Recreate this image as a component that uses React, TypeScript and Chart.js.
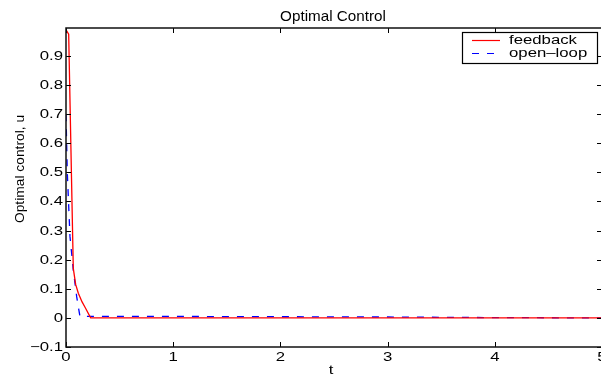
import React, { useEffect, useRef } from "react";
import { Chart, registerables } from "chart.js";

Chart.register(...registerables);

// ---- Data ----
const chartTitle = "Optimal Control";
const xAxisLabel = "t";
const yAxisLabel = "Optimal control, u";
const seriesNames = ["feedback", "open\u2013loop"];

const feedbackT = [0, 0.025, 0.068, 0.09, 0.115, 0.15, 0.18, 0.23, 1, 2, 3, 4, 5];
const feedbackU = [0.99, 0.975, 0.17, 0.115, 0.085, 0.055, 0.035, 0, 0, 0, 0, 0, 0];

const openLoopT = [0, 0.012, 0.037, 0.068, 0.1, 0.13, 0.22, 1, 2, 3, 4, 5];
const openLoopU = [0.7, 0.5, 0.28, 0.165, 0.072, 0.005, 0.005, 0.005, 0.004, 0.003, 0.001, 0.0];

const xTicks = [0, 1, 2, 3, 4, 5];
const xTickLabels = ["0", "1", "2", "3", "4", "5"];
const yTicks = [-0.1, 0, 0.1, 0.2, 0.3, 0.4, 0.5, 0.6, 0.7, 0.8, 0.9];
const yTickLabels = ["\u22120.1", "0", "0.1", "0.2", "0.3", "0.4", "0.5", "0.6", "0.7", "0.8", "0.9"];

const xMin = 0;
const xMax = 5;
const yMin = -0.1;
const yMax = 0.996;

const FONT = "'Liberation Sans', Arial, Helvetica, sans-serif";

function stretchedText(
  ctx: CanvasRenderingContext2D,
  text: string,
  x: number,
  y: number,
  size: number,
  sx: number,
  align: CanvasTextAlign,
  baseline: CanvasTextBaseline
) {
  ctx.save();
  ctx.translate(x, y);
  ctx.scale(sx, 1);
  ctx.font = `${size}px ${FONT}`;
  ctx.textAlign = align;
  ctx.textBaseline = baseline;
  ctx.fillStyle = "#000";
  ctx.fillText(text, 0, 0);
  ctx.restore();
}

const framePlugin = {
  id: "matlabFrame",
  afterDraw(chart: any) {
    const ctx: CanvasRenderingContext2D = chart.ctx;
    const { left, right, top, bottom } = chart.chartArea;
    const xs = chart.scales.x;
    const ys = chart.scales.y;
    ctx.save();
    ctx.strokeStyle = "#000";
    ctx.lineWidth = 1;
    const tl = 5;
    ctx.beginPath();
    xTicks.forEach((v) => {
      const px = Math.round(xs.getPixelForValue(v)) + 0.5;
      ctx.moveTo(px, bottom);
      ctx.lineTo(px, bottom - tl);
      ctx.moveTo(px, top);
      ctx.lineTo(px, top + tl);
    });
    yTicks.forEach((v) => {
      const py = Math.round(ys.getPixelForValue(v)) + 0.5;
      ctx.moveTo(left, py);
      ctx.lineTo(left + tl, py);
      ctx.moveTo(right, py);
      ctx.lineTo(right - tl, py);
    });
    ctx.stroke();

    ctx.lineWidth = 1.5;
    ctx.strokeStyle = "#111";
    ctx.strokeRect(left, top, right - left, bottom - top);

    // tick labels
    xTicks.forEach((v, i) => {
      stretchedText(ctx, xTickLabels[i], xs.getPixelForValue(v), 358, 12.5, 1.34, "center", "middle");
    });
    yTicks.forEach((v, i) => {
      stretchedText(ctx, yTickLabels[i], left - 3, ys.getPixelForValue(v) + 0.5, 12.5, 1.34, "right", "middle");
    });

    // axis labels & title
    stretchedText(ctx, xAxisLabel, (left + right) / 2 - 3, 374, 12.5, 1.34, "center", "alphabetic");
    stretchedText(ctx, chartTitle, 333, 21, 14.5, 1.05, "center", "alphabetic");
    ctx.save();
    ctx.translate(21, 169);
    ctx.rotate(-Math.PI / 2);
    stretchedText(ctx, yAxisLabel, 0, 0, 12, 1.15, "center", "middle");
    ctx.restore();

    // legend
    const bx = 462, by = 32, bw = 135, bh = 31;
    ctx.fillStyle = "#fff";
    ctx.fillRect(bx, by, bw, bh);
    ctx.lineWidth = 1.2;
    ctx.strokeStyle = "#000";
    ctx.strokeRect(bx + 0.5, by + 0.5, bw, bh);
    const rows = [40.5, 53.5];
    chart.data.datasets.forEach((ds: any, i: number) => {
      ctx.save();
      ctx.strokeStyle = ds.borderColor;
      ctx.lineWidth = 1.2;
      ctx.setLineDash(ds.borderDash || []);
      ctx.beginPath();
      ctx.moveTo(472, rows[i]);
      ctx.lineTo(500, rows[i]);
      ctx.stroke();
      ctx.restore();
      stretchedText(ctx, ds.label, 509, rows[i], 12.5, 1.34, "left", "middle");
    });
    ctx.restore();
  },
};

export default function App() {
  const canvasRef = useRef<HTMLCanvasElement | null>(null);

  useEffect(() => {
    const canvas = canvasRef.current;
    if (!canvas) return;
    const chart = new Chart(canvas, {
      type: "line",
      data: {
        datasets: [
          {
            label: seriesNames[0],
            data: feedbackT.map((t, i) => ({ x: t, y: feedbackU[i] })),
            borderColor: "#ff0000",
            borderWidth: 1.3,
            pointRadius: 0,
            tension: 0,
            fill: false,
          },
          {
            label: seriesNames[1],
            data: openLoopT.map((t, i) => ({ x: t, y: openLoopU[i] })),
            borderColor: "#0000ff",
            borderWidth: 1.3,
            borderDash: [7, 8],
            pointRadius: 0,
            tension: 0,
            fill: false,
          },
        ],
      },
      options: {
        responsive: false,
        animation: false,
        devicePixelRatio: 1,
        layout: { padding: { top: 28, right: 8, left: 0, bottom: 0 } },
        plugins: {
          legend: { display: false },
          title: { display: false },
          tooltip: { enabled: false },
        },
        scales: {
          x: {
            type: "linear",
            min: xMin,
            max: xMax,
            grid: { display: false },
            border: { display: false },
            ticks: { display: false },
            afterFit: (scale: any) => {
              scale.height = 28;
            },
          },
          y: {
            type: "linear",
            min: yMin,
            max: yMax,
            grid: { display: false },
            border: { display: false },
            ticks: { display: false },
            afterFit: (scale: any) => {
              scale.width = 66;
            },
          },
        },
      },
      plugins: [framePlugin],
    } as any);
    return () => chart.destroy();
  }, []);

  return (
    <div
      style={{
        position: "fixed",
        left: 0,
        top: 0,
        width: 601,
        height: 375,
        overflow: "hidden",
        background: "#fff",
      }}
    >
      <canvas ref={canvasRef} width={610} height={375} style={{ display: "block" }} />
    </div>
  );
}
